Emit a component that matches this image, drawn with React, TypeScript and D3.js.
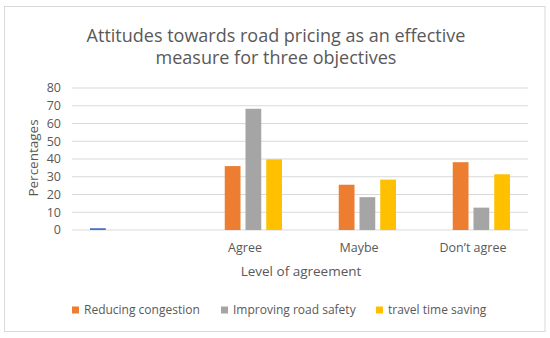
import * as d3 from 'd3';

const categories = ['', 'Agree', 'Maybe', 'Don\u2019t agree'];
const seriesNames = ['Series1', 'Reducing congestion', 'Improving road safety', 'travel time saving'];
const series1 = [1, 0, 0, 0];
const reducingCongestion = [0, 36, 25.5, 38.2];
const improvingRoadSafety = [0, 68.3, 18.5, 12.6];
const travelTimeSaving = [0, 39.8, 28.4, 31.4];
const yTicks = [0, 10, 20, 30, 40, 50, 60, 70, 80];
const legendNames = ['Reducing congestion', 'Improving road safety', 'travel time saving'];

const colors = ['#4472C4', '#ED7D31', '#A5A5A5', '#FFC000'];
const FONT = '"Open Sans", sans-serif';
const TEXT = '#595959';

export default function App() {
  const width = 550;
  const height = 338;
  const plot = { left: 72, right: 528, top: 88, bottom: 230 };

  const allSeries = [series1, reducingCongestion, improvingRoadSafety, travelTimeSaving];

  const x = d3.scaleBand<string>()
    .domain(categories.map((c, i) => String(i)))
    .range([plot.left, plot.right]);

  // 4 bars of ~16px with ~5px gaps, centred in each band
  const groupWidth = 78;
  const inner = d3.scaleBand<string>()
    .domain(seriesNames)
    .range([0, groupWidth])
    .paddingInner(0.24)
    .paddingOuter(0);

  const y = d3.scaleLinear().domain([0, 80]).range([plot.bottom, plot.top]);

  const legendX = [72, 221, 376];

  return (
    <svg width={width} height={height} style={{ position: 'absolute', left: 0, top: 0, background: '#fff' }}>
      <rect x={4.5} y={6.5} width={540.5} height={325} fill="#fff" stroke="#D9D9D9" strokeWidth={1} />

      <text x={276} y={42} textAnchor="middle" fontFamily={FONT} fontSize={18} fill={TEXT}>
        Attitudes towards road pricing as an effective
      </text>
      <text x={276} y={64} textAnchor="middle" fontFamily={FONT} fontSize={18} fill={TEXT}>
        measure for three objectives
      </text>

      {yTicks.map(t => (
        <g key={t}>
          <line x1={plot.left} x2={plot.right} y1={y(t)} y2={y(t)} stroke="#D9D9D9" strokeWidth={1} />
          <text x={61} y={y(t)} dy="0.35em" textAnchor="end" fontFamily={FONT} fontSize={12.5} fill={TEXT}>
            {t}
          </text>
        </g>
      ))}

      {categories.map((c, ci) => {
        const bandStart = x(String(ci))! + (x.bandwidth() - groupWidth) / 2;
        return (
          <g key={ci}>
            {allSeries.map((s, si) => (
              <rect
                key={si}
                x={bandStart + inner(seriesNames[si])!}
                y={y(s[ci])}
                width={inner.bandwidth()}
                height={Math.max(0, y(0) - y(s[ci]))}
                fill={colors[si]}
              />
            ))}
            <text x={x(String(ci))! + x.bandwidth() / 2 + 2} y={248} dy="0.35em" textAnchor="middle"
              fontFamily={FONT} fontSize={12.5} fill={TEXT}>
              {c}
            </text>
          </g>
        );
      })}

      <text transform={`translate(33,158) rotate(-90)`} textAnchor="middle" dy="0.35em"
        fontFamily={FONT} fontSize={13.5} fill={TEXT}>
        Percentages
      </text>
      <text x={301} y={271} dy="0.35em" textAnchor="middle" fontFamily={FONT} fontSize={13.5} fill={TEXT}>
        Level of agreement
      </text>

      {legendNames.map((name, i) => (
        <g key={name} transform={`translate(${legendX[i]},310)`}>
          <rect x={0} y={-3.5} width={7} height={7} fill={colors[i + 1]} />
          <text x={12} y={0} dy="0.35em" fontFamily={FONT} fontSize={12} fill={TEXT}>
            {name}
          </text>
        </g>
      ))}
    </svg>
  );
}
